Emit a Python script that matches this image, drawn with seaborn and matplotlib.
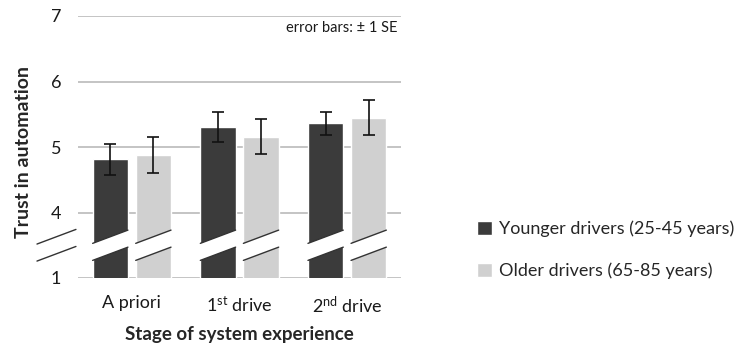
import matplotlib
matplotlib.use("Agg")
import matplotlib.pyplot as plt
import seaborn as sns
import pandas as pd
import numpy as np

# Data: mean trust ratings and standard errors per stage and age group
stages = ["A priori", "1$^{st}$ drive", "2$^{nd}$ drive"]
groups = ["Younger drivers (25-45 years)", "Older drivers (65-85 years)"]
younger_mean = [4.81, 5.31, 5.36]
older_mean = [4.88, 5.16, 5.45]
younger_se = [0.23, 0.23, 0.18]
older_se = [0.28, 0.26, 0.265]
ytick_values = [3, 4, 5, 6, 7]
ytick_labels = ["1", "4", "5", "6", "7"]

colors = ["#3b3b3b", "#d0d0d0"]

sns.set_style("white")
plt.rcParams["font.family"] = ["Lato", "DejaVu Sans"]
plt.rcParams["mathtext.default"] = "regular"

df = pd.DataFrame({
    "stage": stages * 2,
    "group": [groups[0]] * 3 + [groups[1]] * 3,
    "trust": younger_mean + older_mean,
})

fig = plt.figure(figsize=(7.41, 3.48), dpi=100)
ax = fig.add_axes([78 / 741, 1 - 278 / 348, (401 - 78) / 741, (278 - 16) / 348])

sns.barplot(data=df, x="stage", y="trust", hue="group", palette=colors,
            width=0.8, gap=0.18, errorbar=None, ax=ax, saturation=1,
            zorder=2)
bar_containers = list(ax.containers)

ax.set_xlim(-0.5, 2.5)
ax.set_ylim(3, 7)
ax.set_yticks(ytick_values)
ax.set_yticklabels(ytick_labels)
ax.grid(axis="y", color="#bfbfbf", linewidth=1.3, zorder=0)
ax.set_axisbelow(True)
for s in ax.spines.values():
    s.set_visible(False)
ax.tick_params(axis="both", length=0, labelsize=13, colors="#1a1a1a")
ax.tick_params(axis="x", pad=12)
ax.tick_params(axis="y", pad=12)

# Error bars (± 1 SE)
ses = [younger_se, older_se]
means = [younger_mean, older_mean]
for k, cont in enumerate(bar_containers):
    xs = [p.get_x() + p.get_width() / 2 for p in cont.patches]
    ax.errorbar(xs, means[k], yerr=ses[k], fmt="none", ecolor="#111111",
                elinewidth=1.2, capsize=4, capthick=1.2, zorder=4)

# Axis-break bands across every bar
slope = 0.617
y_up, y_lo = 3.63, 3.37
for cont in bar_containers:
    for p in cont.patches:
        x0 = p.get_x()
        x1 = x0 + p.get_width()
        xc = (x0 + x1) / 2
        pad = 0.01
        xa, xb = x0 - pad, x1 + pad
        poly = [(xa, y_lo + slope * (xa - xc)), (xb, y_lo + slope * (xb - xc)),
                (xb, y_up + slope * (xb - xc)), (xa, y_up + slope * (xa - xc))]
        ax.add_patch(plt.Polygon(poly, closed=True, facecolor="white",
                                 edgecolor="none", zorder=3))
        for yc in (y_up, y_lo):
            ax.plot([x0, x1], [yc + slope * (x0 - xc), yc + slope * (x1 - xc)],
                    color="#333333", linewidth=1.0, zorder=3.5)

# Break marks beside the value axis
xl0, xl1, xlc = -0.881, -0.519, -0.70
for yc in (y_up, y_lo):
    ax.plot([xl0, xl1], [yc + slope * (xl0 - xlc), yc + slope * (xl1 - xlc)],
            color="#333333", linewidth=1.0, clip_on=False, zorder=3.5)

ax.set_xlabel("Stage of system experience", fontsize=13.5, fontweight="bold",
              labelpad=7)
ax.set_ylabel("Trust in automation", fontsize=14, fontweight="bold")
ax.yaxis.set_label_coords(-0.143, 0.48)

ax.text(0.99, 0.955, "error bars: ± 1 SE", transform=ax.transAxes,
        ha="right", va="center", fontsize=10.5, color="#1a1a1a")

sns.move_legend(ax, "center left", bbox_to_anchor=(461 / 741, 1 - 250 / 348),
                bbox_transform=fig.transFigure, frameon=False, title=None,
                fontsize=13, handlelength=0.8, handleheight=0.8,
                handletextpad=0.4, labelspacing=1.4)

fig.savefig("out.png", dpi=100)
